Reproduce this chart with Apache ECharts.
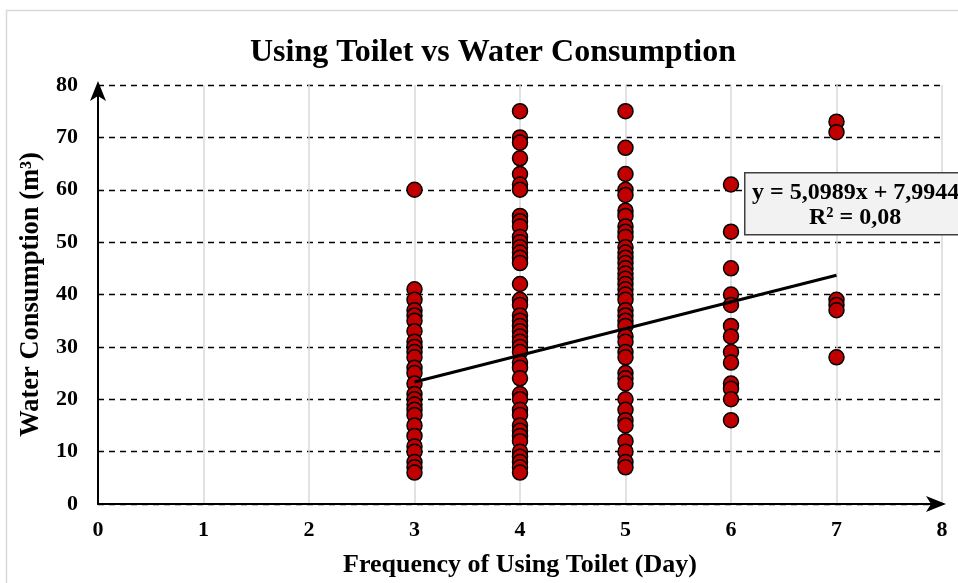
<!DOCTYPE html>
<html>
<head>
<meta charset="utf-8">
<script src="https://cdn.jsdelivr.net/npm/echarts@6/dist/echarts.min.js"></script>
<style>html,body{margin:0;padding:0;background:#fff;}#c{width:958px;height:583px;}</style>
</head>
<body>
<div id="c"></div>
<script>
// Data
const xTicks = [0, 1, 2, 3, 4, 5, 6, 7, 8];
const yTicks = [0, 10, 20, 30, 40, 50, 60, 70, 80];
const freq3 = [60, 41, 39, 37, 36, 35, 33, 31, 30, 29, 28, 26, 25, 23, 21, 20, 19, 18, 17, 15, 13, 11, 10, 8, 7, 6];
const freq4 = [75, 70, 69, 66, 63, 61, 60, 55, 54, 53, 51, 50, 49, 48, 47, 46, 42, 39, 38, 36, 35, 34, 33, 32, 31, 30, 29, 27, 26, 24, 21, 20, 18, 17, 15, 14, 13, 12, 10, 9, 8, 7, 6];
const freq5 = [75, 68, 63, 60, 59, 56, 55, 53, 52, 51, 49, 48, 47, 46, 45, 44, 43, 42, 41, 40, 39, 37, 36, 35, 34, 32, 31, 29, 28, 25, 24, 23, 20, 18, 16, 15, 12, 10, 8, 7];
const freq6 = [61, 52, 45, 40, 38, 34, 32, 29, 27, 23, 22, 20, 16];
const freq7 = [73, 71, 39, 38, 37, 28];
const trendSlope = 5.0989;
const trendIntercept = 7.9944;
const trendRange = [3, 7];
const equationText = 'y = 5,0989x + 7,9944';
const r2Text = 'R² = 0,08';

const groups = [[3, freq3], [4, freq4], [5, freq5], [6, freq6], [7, freq7]];
const points = [];
groups.forEach(([x, vals]) => vals.forEach(v => points.push([x, v])));
const trend = trendRange.map(x => [x, trendSlope * x + trendIntercept]);

const FONT = '"Liberation Serif", "Times New Roman", serif';
const chart = echarts.init(document.getElementById('c'));
chart.setOption({
  animation: false,
  backgroundColor: '#ffffff',
  title: {
    text: 'Using Toilet vs Water Consumption',
    left: 488, top: 32, textAlign: 'center',
    textStyle: { fontFamily: FONT, fontWeight: 'bold', fontSize: 32, color: '#000' }
  },
  grid: { left: 98, right: 16, top: 85, bottom: 78, containLabel: false },
  xAxis: {
    type: 'value', min: 0, max: 8, interval: 1,
    name: 'Frequency of Using Toilet (Day)', nameLocation: 'middle', nameGap: 48,
    nameTextStyle: { fontFamily: FONT, fontWeight: 'bold', fontSize: 26, color: '#000' },
    axisLine: { show: true, onZero: false, symbol: ['none', 'arrow'], symbolSize: [12, 20], symbolOffset: [0, 4], lineStyle: { color: '#000', width: 2 } },
    axisTick: { show: false },
    axisLabel: { fontFamily: FONT, fontWeight: 'bold', fontSize: 22, color: '#000', margin: 15 },
    splitLine: { show: true, lineStyle: { color: '#d9d9d9', width: 1.5, type: 'solid' } }
  },
  yAxis: {
    type: 'value', min: 0, max: 80, interval: 10,
    name: 'Water Consumption (m³)', nameLocation: 'middle', nameGap: 53, nameRotate: 90,
    nameTextStyle: { fontFamily: FONT, fontWeight: 'bold', fontSize: 26.5, color: '#000' },
    axisLine: { show: true, onZero: false, symbol: ['none', 'arrow'], symbolSize: [12, 20], symbolOffset: [0, 4], lineStyle: { color: '#000', width: 2 } },
    axisTick: { show: false },
    axisLabel: { fontFamily: FONT, fontWeight: 'bold', fontSize: 22, color: '#000', margin: 20 },
    splitLine: { show: true, lineStyle: { color: '#000', width: 1.3, type: [6, 5] } }
  },
  series: [
    {
      type: 'scatter', data: points, symbol: 'circle', symbolSize: 15,
      itemStyle: { color: '#c00000', borderColor: '#000', borderWidth: 1.5, opacity: 1 },
      z: 3
    },
    {
      type: 'line', data: trend, symbol: 'none', silent: true,
      lineStyle: { color: '#000', width: 3 }, z: 4
    }
  ],
  graphic: [
    {
      type: 'rect', left: 4, top: 8, silent: true, z: -10,
      shape: { width: 970, height: 600 },
      style: { fill: 'none', stroke: '#d9d9d9', lineWidth: 1.5 }
    },
    {
      type: 'rect', left: 744, top: 172, z: 50,
      shape: { width: 230, height: 62 },
      style: { fill: '#f2f2f2', stroke: '#404040', lineWidth: 1.5 }
    },
    {
      type: 'text', left: 752, top: 181, z: 51,
      style: { text: equationText, fontFamily: FONT, fontWeight: 'bold', fontSize: 24, fill: '#000' }
    },
    {
      type: 'text', left: 809, top: 206, z: 51,
      style: { text: r2Text, fontFamily: FONT, fontWeight: 'bold', fontSize: 24, fill: '#000' }
    }
  ]
});
</script>
</body>
</html>
